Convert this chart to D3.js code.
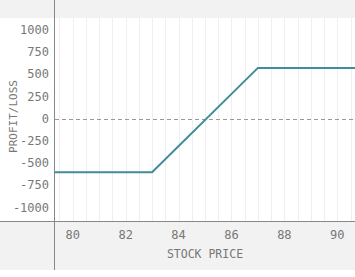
<!DOCTYPE html>
<html>
<head>
<meta charset="utf-8">
<script src="https://cdn.jsdelivr.net/npm/d3@7"></script>
<style>
  body { margin: 0; background: #fff; }
  text { font-family: "DejaVu Sans Mono", monospace; fill: #777; }
</style>
</head>
<body>
<div id="chart"></div>
<script>
// payoff curve of the spread
var prices = [79.33, 83, 87, 90.67];
var profit = [-605, -605, 570, 570];
var yTicks = [1000, 750, 500, 250, 0, -250, -500, -750, -1000];
var xTicks = [80, 82, 84, 86, 88, 90];
var gridSteps = d3.range(79.5, 90.6, 0.5);

var width = 355, height = 277;
var margin = { top: 18, right: 0, bottom: 56, left: 55 };

var svg = d3.select('#chart').append('svg')
    .attr('width', width)
    .attr('height', height);

var x = d3.scaleLinear()
    .domain([79.33, 90.67])
    .range([margin.left, width - margin.right]);

var y = d3.scaleLinear()
    .domain([-1000, 1000])
    .range([118.5 + 88.8, 118.5 - 88.8]);

// grey bands top and bottom
svg.append('rect').attr('x', 0).attr('y', 0).attr('width', width).attr('height', margin.top).attr('fill', '#f2f2f2');
svg.append('rect').attr('x', 0).attr('y', 221).attr('width', width).attr('height', 49).attr('fill', '#f2f2f2');

// vertical grid
svg.append('g')
    .selectAll('line')
    .data(gridSteps)
    .enter().append('line')
    .attr('x1', function(d) { return Math.round(x(d)) + 0.5; })
    .attr('x2', function(d) { return Math.round(x(d)) + 0.5; })
    .attr('y1', margin.top)
    .attr('y2', 221)
    .attr('stroke', '#efefef');

// zero line
svg.append('line')
    .attr('x1', margin.left).attr('x2', width)
    .attr('y1', Math.round(y(0)) + 0.5).attr('y2', Math.round(y(0)) + 0.5)
    .attr('stroke', '#999')
    .attr('stroke-dasharray', '4,3');

// y tick labels
svg.append('g')
    .selectAll('text')
    .data(yTicks)
    .enter().append('text')
    .attr('x', 49)
    .attr('y', function(d) { return y(d); })
    .attr('dy', '0.35em')
    .attr('text-anchor', 'end')
    .attr('font-size', 12)
    .text(function(d) { return d < 0 ? '-' + Math.abs(d) : d; });

// x tick labels
svg.append('g')
    .selectAll('text')
    .data(xTicks)
    .enter().append('text')
    .attr('x', function(d) { return x(d); })
    .attr('y', 235)
    .attr('dy', '0.35em')
    .attr('text-anchor', 'middle')
    .attr('font-size', 12)
    .text(function(d) { return d; });

// axis titles
svg.append('text')
    .attr('x', x(85))
    .attr('y', 254)
    .attr('dy', '0.35em')
    .attr('text-anchor', 'middle')
    .attr('font-size', 11.5)
    .text('STOCK PRICE');

svg.append('text')
    .attr('transform', 'translate(13,' + (y(0) - 2) + ') rotate(-90)')
    .attr('dy', '0.35em')
    .attr('text-anchor', 'middle')
    .attr('font-size', 11)
    .text('PROFIT/LOSS');

// axis lines
svg.append('line')
    .attr('x1', 0).attr('x2', width)
    .attr('y1', 221.5).attr('y2', 221.5)
    .attr('stroke', '#888');
svg.append('line')
    .attr('x1', 54.5).attr('x2', 54.5)
    .attr('y1', 0).attr('y2', 270)
    .attr('stroke', '#888');

// payoff line
var line = d3.line()
    .x(function(d, i) { return x(prices[i]); })
    .y(function(d) { return y(d); });

svg.append('path')
    .datum(profit)
    .attr('d', line)
    .attr('fill', 'none')
    .attr('stroke', '#3f8c9c')
    .attr('stroke-width', 2);
</script>
</body>
</html>
